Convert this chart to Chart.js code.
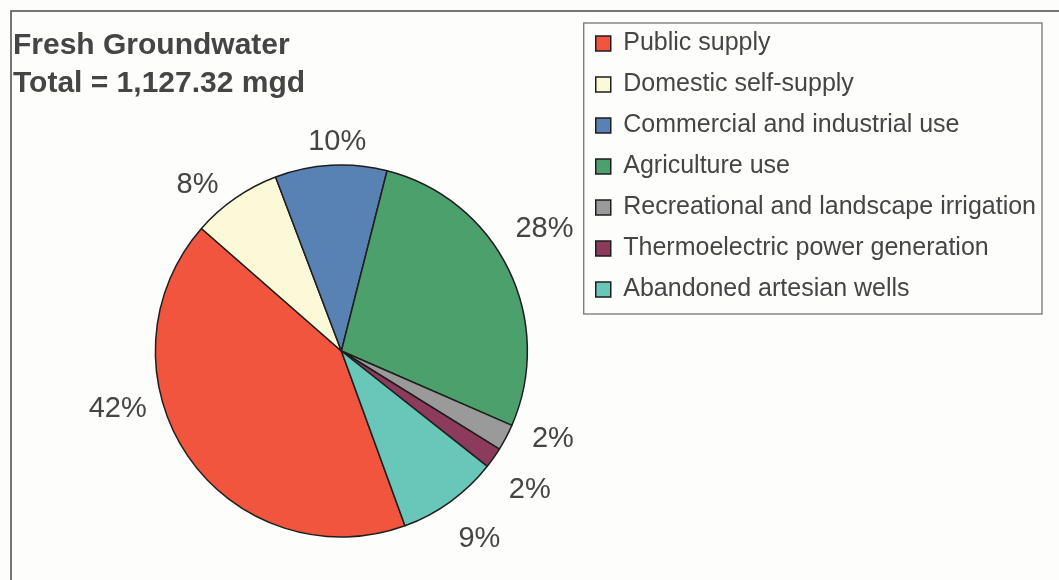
<!DOCTYPE html>
<html>
<head>
<meta charset="utf-8">
<script src="https://cdn.jsdelivr.net/npm/chart.js@4"></script>
<style>
  html, body { margin: 0; padding: 0; background: #fdfdfc; }
  #wrap { width: 1059px; height: 580px; }
</style>
</head>
<body>
<div id="wrap"><canvas id="c" width="1059" height="580"></canvas></div>
<script>
// ---- data ----
const titleLines = ['Fresh Groundwater', 'Total = 1,127.32 mgd'];
const categories = [
  'Public supply',
  'Domestic self-supply',
  'Commercial and industrial use',
  'Agriculture use',
  'Recreational and landscape irrigation',
  'Thermoelectric power generation',
  'Abandoned artesian wells'
];
const valuesMgd = [473.5, 87.9, 109.4, 311.1, 25.9, 20.3, 99.2];
const sliceColors = ['#f1553e', '#fbf9d8', '#5881b4', '#4ba06c', '#9a9a9a', '#8c3b5c', '#68c7b9'];

// label placement tweaks (degrees around the slice midline, px beyond the rim)
const labelAngleShift = [19.9, -6.1, 2.1, -4.9, -5.2, 1.3, -0.5];
const labelGap = [45, 34, 23, 51, 43, 48, 47];

const TEXT = '#454545';

// left spacer box so the pie sits where it does in the original
const spacerPlugin = {
  id: 'spacer',
  beforeInit(chart) {
    Chart.layouts.addBox(chart, {
      position: 'left', fullSize: false, weight: 100,
      options: { stackWeight: 1 },
      left: 0, top: 0, right: 0, bottom: 0, width: 0, height: 0,
      isHorizontal() { return false; },
      update(maxW, maxH) { this.width = 90; this.height = maxH; },
      draw() {}
    });
  }
};

const framePlugin = {
  id: 'frame',
  beforeDraw(chart) {
    const ctx = chart.ctx;
    ctx.save();
    ctx.strokeStyle = '#4a4a4a';
    ctx.lineWidth = 1.5;
    ctx.strokeRect(11, 11, 1200, 800);
    ctx.restore();
  },
  afterDraw(chart) {
    const lg = chart.legend;
    if (!lg || !lg.legendHitBoxes || !lg.legendHitBoxes.length) return;
    const hb = lg.legendHitBoxes;
    let right = 0;
    hb.forEach(h => { right = Math.max(right, h.left + h.width); });
    const left = hb[0].left - 12;
    const top = hb[0].top - 8;
    const last = hb[hb.length - 1];
    const bottom = last.top + last.height + 12;
    const ctx = chart.ctx;
    ctx.save();
    ctx.strokeStyle = '#6a6a6a';
    ctx.lineWidth = 1.2;
    ctx.strokeRect(left, top, right + 6 - left, bottom - top);
    ctx.restore();
  }
};

const pctLabelPlugin = {
  id: 'pctLabels',
  afterDatasetsDraw(chart) {
    const meta = chart.getDatasetMeta(0);
    const data = chart.data.datasets[0].data;
    const total = data.reduce((a, b) => a + b, 0);
    const ctx = chart.ctx;
    ctx.save();
    ctx.font = '29px "Liberation Sans", Arial, sans-serif';
    ctx.fillStyle = TEXT;
    ctx.textAlign = 'center';
    ctx.textBaseline = 'middle';
    meta.data.forEach((arc, i) => {
      const p = arc.getProps(['x', 'y', 'startAngle', 'endAngle', 'outerRadius'], true);
      const mid = (p.startAngle + p.endAngle) / 2 + labelAngleShift[i] * Math.PI / 180;
      const r = p.outerRadius + labelGap[i];
      const tx = p.x + Math.cos(mid) * r;
      const ty = p.y + Math.sin(mid) * r;
      ctx.fillText(Math.round(data[i] / total * 100) + '%', tx, ty);
    });
    ctx.restore();
  }
};

new Chart(document.getElementById('c'), {
  type: 'pie',
  data: {
    labels: categories,
    datasets: [{
      data: valuesMgd,
      backgroundColor: sliceColors,
      borderColor: '#1e1e1e',
      borderWidth: 1.5,
      hoverOffset: 0,
      offset: 0,
      radius: 186
    }]
  },
  options: {
    responsive: false,
    animation: false,
    rotation: 160,
    layout: { padding: { left: 13, right: 13, top: 15, bottom: 43 } },
    plugins: {
      tooltip: { enabled: false },
      title: {
        display: true,
        text: titleLines,
        align: 'start',
        color: TEXT,
        font: { family: '"Liberation Sans", Arial, sans-serif', size: 30, weight: 'bold', lineHeight: '38px' },
        padding: { top: 11.5, bottom: 62.5 }
      },
      legend: {
        display: true,
        position: 'right',
        align: 'start',
        maxWidth: 520,
        labels: {
          color: TEXT,
          font: { family: '"Liberation Sans", Arial, sans-serif', size: 25 },
          boxWidth: 15,
          boxHeight: 15,
          padding: 16
        }
      }
    }
  },
  plugins: [spacerPlugin, framePlugin, pctLabelPlugin]
});
</script>
</body>
</html>
